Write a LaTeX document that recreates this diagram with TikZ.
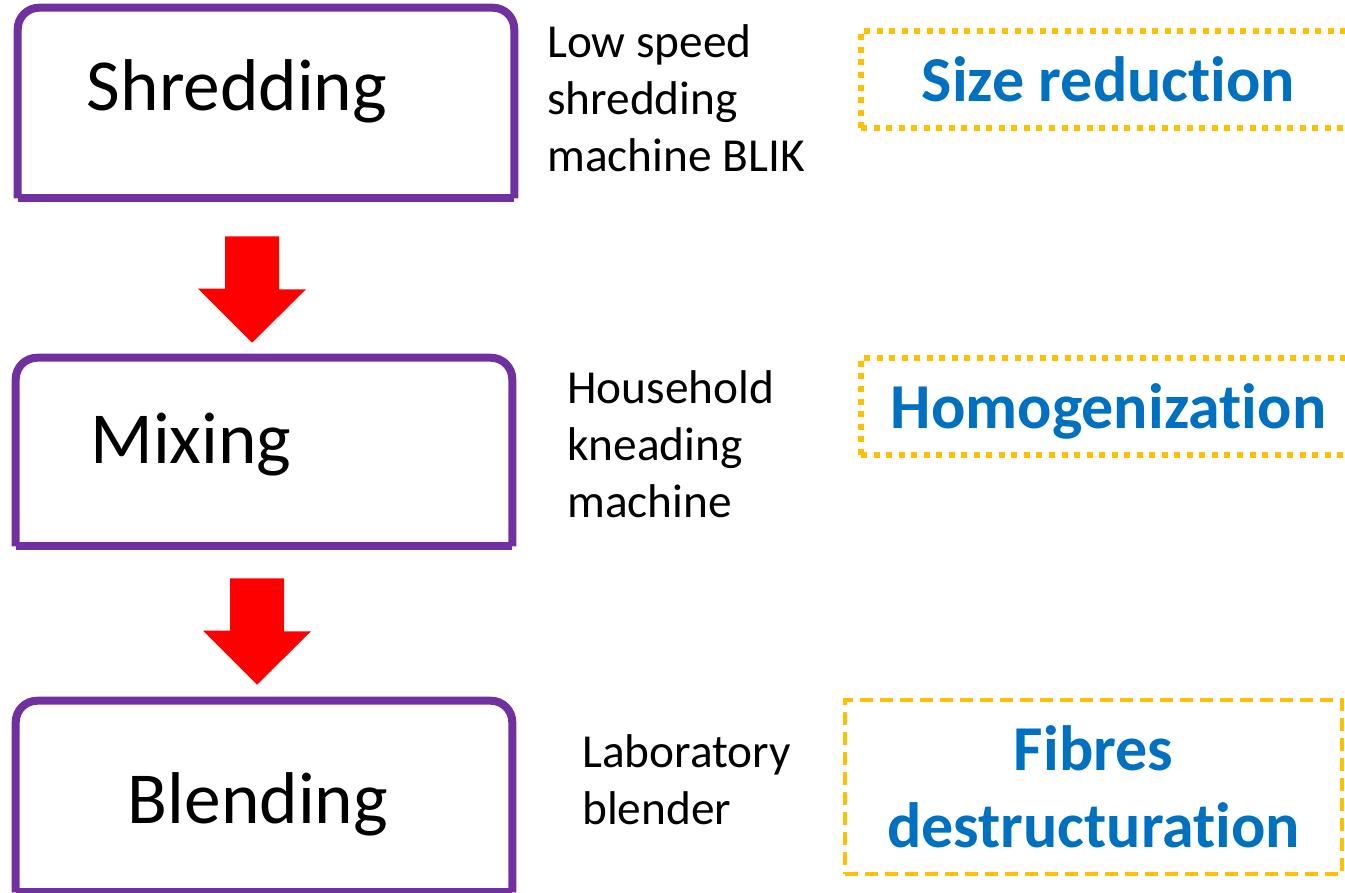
\documentclass[tikz,border=0pt]{standalone}
\usepackage{fontspec}
\setmainfont{Carlito}[RawFeature={-liga;-clig;-calt;-dlig}]
\usetikzlibrary{positioning,calc}
\definecolor{stagepurple}{HTML}{7030A0}
\definecolor{arrowred}{HTML}{FF0000}
\definecolor{aimgold}{HTML}{FFC000}
\definecolor{aimblue}{HTML}{0070C0}

\tikzset{
  stepbox/.style={draw=none, inner sep=0, minimum width=372pt},
  stepline/.style={draw=stagepurple, line width=6pt},
  steptext/.style={anchor=base, inner sep=0, font=\fontsize{55}{66}\selectfont},
  tooltext/.style={anchor=north west, inner sep=0, align=left, font=\fontsize{35.5}{42.75}\selectfont},
  aimtext/.style={text=aimblue, inner sep=0, align=center, font=\bfseries\fontsize{48}{57.75}\selectfont},
  aimdots/.style={aimtext, draw=aimgold, line width=4.5pt, dash pattern=on 4.5pt off 4.9pt, minimum width=371.25pt, minimum height=72.75pt},
  aimdash/.style={aimtext, draw=aimgold, line width=3pt, dash pattern=on 10pt off 5pt, minimum width=372.75pt, minimum height=130.5pt},
  flowarrow/.style={fill=arrowred}
}

\begin{document}
\begin{tikzpicture}[x=0.75pt, y=-0.75pt]
        \useasboundingbox (0,0) rectangle (1345,892);

        % Shredding
        \node[stepbox, minimum height=142.5pt] (shred) at (266,103) {};
        \draw[stepline, rounded corners=16pt] (shred.south west) -- (shred.north west) -- (shred.north east) -- (shred.south east);
        \draw[stepline, line cap=square] (shred.south west) -- (shred.south east);
        \node[steptext] (shredtxt) at ($(shred)+(-29,7)$) {Shredding};
        \node[tooltext] (shredtool) at (547,24) {Low speed\\shredding\\machine BLIK};
        \node[aimdots] (sizeaim) at (1108.5,79.5) {Size reduction};

        % Mixing
        \node[stepbox, minimum height=141pt] (mix) at (264,452) {};
        \draw[stepline, rounded corners=16pt] (mix.south west) -- (mix.north west) -- (mix.north east) -- (mix.south east);
        \draw[stepline, line cap=square] (mix.south west) -- (mix.south east);
        \node[steptext] (mixtxt) at ($(mix)+(-73,11)$) {Mixing};
        \node[tooltext] (mixtool) at (567,370) {Household\\kneading\\machine};
        \node[aimdots, text depth=0pt] (homoaim) at (1108.5,406) {Homogenization};

        % Blending
        \node[stepbox, minimum height=143.25pt] (blend) at (264,796.5) {};
        \draw[stepline, rounded corners=16pt] (blend.south west) -- (blend.north west) -- (blend.north east) -- (blend.south east);
        \draw[stepline, line cap=square] (blend.south west) -- (blend.south east);
        \node[steptext] (blendtxt) at ($(blend)+(-6,26.5)$) {Blending};
        \node[tooltext] (blendtool) at (582,734) {Laboratory\\blender};
        \node[aimdash] (fibreaim) at (1093.5,787) {Fibres\\destructuration};

        % Arrows
        \fill[flowarrow] ($(shred.south)+(-41,38)$) -- ++(54,0) -- ++(0,53) -- ++(27,0)
            -- ($(mix.north)+(-12,-15)$) -- ++(-54,-54) -- ++(27,0) -- cycle;
        \fill[flowarrow] ($(mix.south)+(-34,32)$) -- ++(54,0) -- ++(0,53) -- ++(27,0)
            -- ($(blend.north)+(-7,-16)$) -- ++(-54,-54) -- ++(27,0) -- cycle;
\end{tikzpicture}
\end{document}
